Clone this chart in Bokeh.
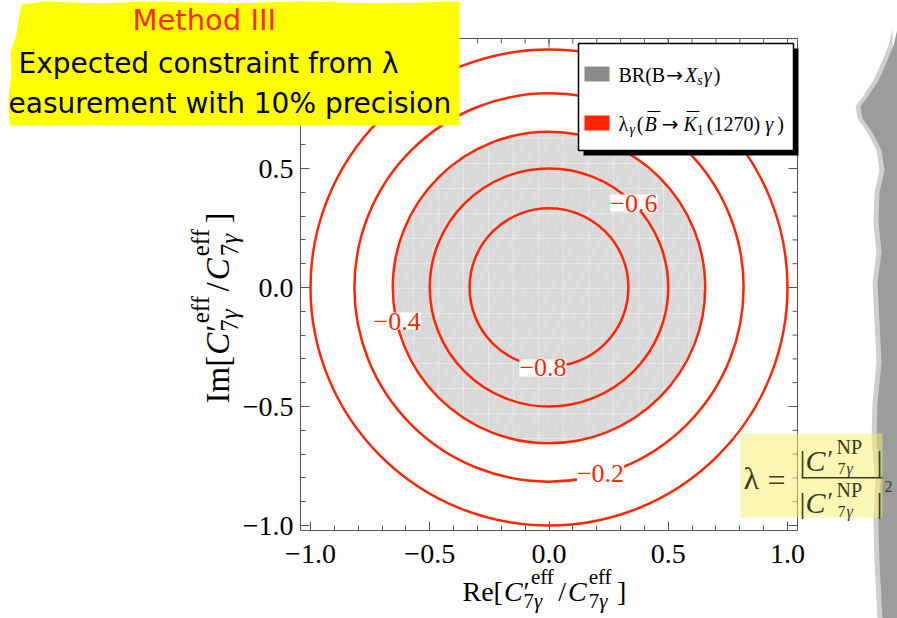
from math import pi
from bokeh.plotting import figure
from bokeh.models import Label, PolyAnnotation, FixedTicker, Range1d, CustomJSTickFormatter
from bokeh.embed import file_html
from bokeh.resources import INLINE

# ---------------- data ----------------
contour_levels = [-0.8, -0.6, -0.4, -0.2, 0.0]
contour_radii = [0.333, 0.50, 0.655, 0.816, 1.0]
br_allowed_radius = 0.655
label_texts = ["\u22120.6", "\u22120.4", "\u22120.8", "\u22120.2"]
label_x = [0.356, -0.637, -0.025, 0.216]
label_y = [0.355, -0.141, -0.338, -0.782]
major_ticks = [-1.0, -0.5, 0.0, 0.5, 1.0]
tick_labels = ["\u22121.0", "\u22120.5", "0.0", "0.5", "1.0"]
minor_ticks = [-1.0, -0.9, -0.8, -0.7, -0.6, -0.5, -0.4, -0.3, -0.2, -0.1, 0.0,
               0.1, 0.2, 0.3, 0.4, 0.5, 0.6, 0.7, 0.8, 0.9, 1.0]

# ---------------- layout: the whole page is the data frame ----------------
W, H = 897, 618
PX0, PY0, SX, SY = 548.5, 287.0, 238.5, 238.0     # pixel of (0,0) and pixels per unit
XL, XR = -PX0 / SX, (W - PX0) / SX
YT, YB = PY0 / SY, -(H - PY0) / SY

def dx(px):
    return (px - PX0) / SX

def dy(py):
    return (PY0 - py) / SY

BX0, BX1, BY1, BY0 = dx(300), dx(797), dy(38), dy(530)   # plot box

RED = "#ff2600"
AX = "#555555"
SERIF = "Liberation Serif"

p = figure(width=W, height=H, x_range=Range1d(XL, XR), y_range=Range1d(YB, YT),
           output_backend="svg", toolbar_location=None, min_border=0,
           min_border_left=0, min_border_right=0, min_border_top=0, min_border_bottom=0)
p.grid.visible = False
p.outline_line_color = None
p.background_fill_color = "white"
p.border_fill_color = "white"

fmt = CustomJSTickFormatter(args=dict(majors=major_ticks, labs=tick_labels), code="""
const i = majors.findIndex(t => Math.abs(t - tick) < 1e-9);
return i >= 0 ? labs[i] : '';
""")

for ax, standoff, loc, bnd in ((p.xaxis[0], 14, BY0, (BX0, BX1)),
                               (p.yaxis[0], 7, BX0, (BY0, BY1))):
    ax.fixed_location = loc
    ax.bounds = bnd
    ax.ticker = FixedTicker(ticks=major_ticks, minor_ticks=minor_ticks)
    ax.formatter = fmt
    ax.major_tick_in = 9
    ax.major_tick_out = 0
    ax.minor_tick_in = 5
    ax.minor_tick_out = 0
    ax.axis_line_color = AX
    ax.major_tick_line_color = AX
    ax.minor_tick_line_color = AX
    ax.major_label_text_font = SERIF
    ax.major_label_text_color = "black"
    ax.major_label_text_font_size = "28px"
    ax.major_label_standoff = standoff

# top and right edges of the plot box with their ticks
p.segment(x0=[BX0, BX1], x1=[BX1, BX1], y0=[BY1, BY1], y1=[BY1, BY0], line_color=AX, line_width=1)
for ticks, ln in ((minor_ticks, 5), (major_ticks, 9)):
    p.segment(x0=ticks, x1=ticks, y0=[BY1] * len(ticks), y1=[BY1 - ln / SY] * len(ticks),
              line_color=AX, line_width=1)
    p.segment(x0=[BX1] * len(ticks), x1=[BX1 - ln / SX] * len(ticks), y0=ticks, y1=ticks,
              line_color=AX, line_width=1)

# allowed BR region (gray disk) with faint mesh
p.ellipse(x=0, y=0, width=2 * br_allowed_radius, height=2 * br_allowed_radius,
          fill_color="#d9d9d9", line_color=None)
p.ellipse(x=0, y=0, width=2 * br_allowed_radius, height=2 * br_allowed_radius,
          fill_alpha=0, line_color=None, hatch_pattern="+", hatch_color="white",
          hatch_alpha=0.35, hatch_scale=25, hatch_weight=1)
p.ellipse(x=0, y=0, width=2 * br_allowed_radius, height=2 * br_allowed_radius,
          fill_alpha=0, line_color=None, hatch_pattern="/", hatch_color="white",
          hatch_alpha=0.25, hatch_scale=25, hatch_weight=1)

# lambda contours
p.ellipse(x=[0] * len(contour_radii), y=[0] * len(contour_radii),
          width=[2 * r for r in contour_radii], height=[2 * r for r in contour_radii],
          fill_color=None, line_color=RED, line_width=2.5)

# contour labels
for t, lx, ly in zip(label_texts, label_x, label_y):
    p.add_layout(Label(x=lx, y=ly, text=t, text_font=SERIF, text_font_size="26px",
                       text_color=RED, text_align="center", text_baseline="middle",
                       background_fill_color="white", padding=0))

# ---------------- text helpers ----------------
EM = {
    "normal": {"B": .667, "R": .667, "(": .333, ")": .333, "[": .333, "]": .333, "/": .278,
               "I": .333, "m": .778, "e": .444, "f": .333, "7": .5, "1": .5, "2": .5,
               "0": .5, "\u03bb": .55, "\u2032": .26, "N": .722, "P": .556, "|": .2,
               "\u2192": .84, " ": .25, "s": .389},
    "italic": {"C": .667, "X": .611, "K": .667, "B": .611, "s": .389, "\u03b3": .45},
}
BASE_SHIFT = 0.28   # alphabetic baseline correction (fraction of font size)

def tw(text, size, style):
    return sum(EM[style].get(ch, .5) for ch in text) * size

def L(text, px, py, size, style="normal", color="black", font=SERIF, rotated=False):
    if text == "\u2192":
        font = "DejaVu Sans"
    if rotated:
        px -= BASE_SHIFT * size
    else:
        py -= BASE_SHIFT * size
    p.add_layout(Label(x=dx(px), y=dy(py), text=text, text_font=font,
                       text_font_size=f"{size}px", text_font_style=style,
                       text_color=color, text_align="left", text_baseline="alphabetic",
                       angle=pi / 2 if rotated else 0.0))

def run(x0, base, items, rotated=False, color="black", font=SERIF):
    """items: (text, size, style, offset, gap) or ('stack', [[(text,size,style,offset),...],...], gap)"""
    s = 0.0
    starts = []
    for it in items:
        if it[0] == "stack":
            runs, gap = it[1], it[2]
        else:
            runs, gap = [[it[:4]]], it[4]
        adv = 0.0
        for r in runs:
            ss = s
            for (text, size, style, off) in r:
                if rotated:
                    L(text, base - off, x0 - ss, size, style, color, font, True)
                else:
                    L(text, x0 + ss, base - off, size, style, color, font)
                starts.append((text, x0 + ss))
                ss += tw(text, size, style)
            adv = max(adv, ss - s)
        s += adv + gap
    return starts

# ---------------- legend (inside the plot box) ----------------
p.quad(left=dx(583), right=dx(798), top=dy(48), bottom=dy(155), fill_color="black", line_color=None)
p.quad(left=dx(578), right=dx(793), top=dy(43), bottom=dy(150), fill_color="white",
       line_color="black", line_width=1.5)
p.quad(left=dx(584), right=dx(609), top=dy(66), bottom=dy(81), fill_color="#8a8a8a", line_color=None)
p.quad(left=dx(584), right=dx(609), top=dy(115), bottom=dy(130), fill_color=RED, line_color=None)

LS, LSS = 20, 14
run(618, 80, [("BR(B", LS, "normal", 0, 1), ("\u2192", LS, "normal", 0, 2),
              ("X", LS, "italic", 0, 0), ("s", LSS, "italic", -4, 1),
              ("\u03b3", LS, "italic", 0, 1), (")", LS, "normal", 0, 0)])
st = run(618, 129, [("\u03bb", LS, "normal", 0, 0), ("\u03b3", LSS, "italic", -4, 1),
                    ("(", LS, "normal", 0, 1), ("B", LS, "italic", 0, 5),
                    ("\u2192", LS, "normal", 0, 5), ("K", LS, "italic", 0, 0),
                    ("1", LSS, "normal", -4, 3), ("(1270)", LS, "normal", 0, 5),
                    ("\u03b3", LS, "italic", 0, 3), (")", LS, "normal", 0, 0)])
ov = [x for t, x in st if t in ("B", "K")]
p.segment(x0=[dx(x + 3) for x in ov], y0=[dy(111)] * 2, x1=[dx(x + 16) for x in ov],
          y1=[dy(111)] * 2, line_color="black", line_width=1.2)

# ---------------- axis titles ----------------
def axis_title(x0, base, M, m, head, rotated):
    sub = [("7", m, "normal", -0.28 * M), ("\u03b3", m, "italic", -0.28 * M)]
    items = [(head, M, "normal", 0, 1),
             ("C", M, "italic", 0, 1),
             ("stack", [[("\u2032", M, "normal", 0), ("eff", m, "normal", 0.6 * M)], sub], 4),
             ("/", M, "normal", 0, 2),
             ("C", M, "italic", 0, 2),
             ("stack", [[("eff", m, "normal", 0.6 * M)], sub], 5),
             ("]", M, "normal", 0, 0)]
    run(x0, base, items, rotated=rotated)

axis_title(462, 599, 28, 21, "Re[", False)
axis_title(403, 227, 33, 25, "Im[", True)

# ---------------- decorations ----------------
def poly(pts, color, alpha=1.0):
    p.add_layout(PolyAnnotation(xs=[dx(a) for a, _ in pts], ys=[dy(b) for _, b in pts],
                                fill_color=color, fill_alpha=alpha, line_color=None))

# torn page edge at right
edge = [(897, 28), (893, 45), (886, 62), (878, 80), (868, 95), (860, 106), (862, 118),
        (872, 132), (881, 150), (884, 170), (879, 192), (878, 222), (881, 252), (877, 282),
        (879, 322), (881, 362), (877, 402), (876, 440), (880, 480), (878, 522), (879, 562),
        (881, 600), (882, 618), (897, 618)]
poly([(a - 5, b) for a, b in edge], "#cfcfcf")
poly(edge, "#9c9c9c")

# pale yellow formula box
poly([(740, 433), (882, 433), (882, 517), (740, 517)], "#f5ef6a", 0.5)
FC = "#3a3a22"
L("\u03bb", 743, 486, 32, color=FC)
L("=", 767, 488, 32, color=FC)
poly([(801, 476.5), (882, 476.5), (882, 478), (801, 478)], FC)
for base, sup_b, sub_b in ((468, 452, 472), (510, 495, 515)):
    L("|", 799, base, 30, color=FC)
    L("C", 805, base, 30, "italic", color=FC)
    L("\u2032", 827, base - 2, 26, color=FC)
    L("NP", 836, sup_b, 20, color=FC)
    L("7", 837, sub_b, 16, color=FC)
    L("\u03b3", 846, sub_b, 16, "italic", color=FC)
    L("|", 876, base, 30, color=FC)
L("2", 884, 490, 16, color=FC)

# yellow title box
poly([(21, 4), (45, 1), (95, 3), (150, 1), (230, 3), (300, 1), (380, 3), (459, 1),
      (459, 125), (9, 125), (8, 98), (11, 72), (10, 52), (16, 34), (19, 14)], "#ffff00")
L("Method III", 132, 28, 29, color="#ff2a1a", font="DejaVu Sans")
L("Expected constraint from \u03bb", 18, 71, 28, font="DejaVu Sans")
L("easurement with 10% precision", 8, 111, 28, font="DejaVu Sans")

open("out.html", "w").write(file_html(p, INLINE))
